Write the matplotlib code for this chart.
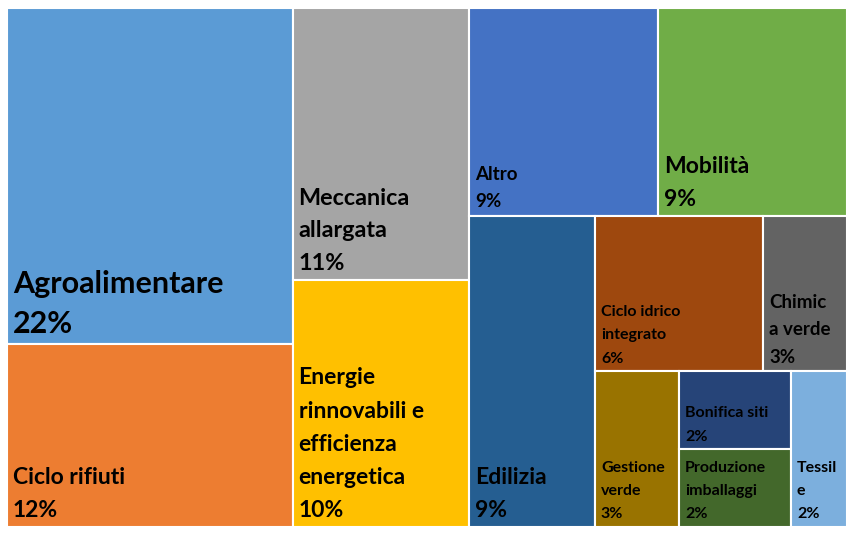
import matplotlib.pyplot as plt
from matplotlib.patches import Rectangle

# sectors, share in percent (largest first, as Excel sorts them)
labels = ["Agroalimentare", "Ciclo rifiuti", "Meccanica\nallargata",
          "Energie\nrinnovabili e\nefficienza\nenergetica", "Altro", "Mobilità",
          "Edilizia", "Ciclo idrico\nintegrato", "Chimic\na verde",
          "Gestione\nverde", "Bonifica siti", "Produzione\nimballaggi", "Tessil\ne"]
values = [22, 12, 11, 10, 9, 9, 9, 6, 3, 3, 2, 2, 2]

# how many items go in each strip of the squarified layout
strips = [2, 2, 2, 1, 2, 1, 2, 1]

colors = ["#5B9BD5", "#ED7D31", "#A5A5A5", "#FFC000", "#4472C4", "#70AD47",
          "#255E91", "#9E480E", "#636363", "#997300", "#264478", "#43682B",
          "#7CAFDD"]
font_sizes = [22, 16.5, 16.8, 16.5, 13.5, 16.5, 16.5, 11.5, 13.5, 11.5, 11.5, 11.5, 11.5]
spacing = {22: 1.52, 16.5: 1.72, 16.8: 1.7, 13.5: 1.75, 11.5: 1.86}

W, H = 840, 519


def layout(vals, strips, x, y, w, h):
    scale = w * h / sum(vals)
    rects = []
    i = 0
    for n in strips:
        group = vals[i:i + n]
        area = sum(group) * scale
        if w >= h:
            cw = area / h
            yy = y
            for v in group:
                ch = v * scale / cw
                rects.append((x, yy, cw, ch))
                yy += ch
            x += cw
            w -= cw
        else:
            rh = area / w
            xx = x
            for v in group:
                rw = v * scale / rh
                rects.append((xx, y, rw, rh))
                xx += rw
            y += rh
            h -= rh
        i += n
    return rects


rects = layout(values, strips, 0, 0, W, H)

fig = plt.figure(figsize=(8.52, 5.33), dpi=100)
ax = fig.add_axes([6 / 852, 5 / 533, (W + 2) / 852, (H + 2) / 533])
ax.set_xlim(-1, W + 1)
ax.set_ylim(H + 1, -1)
ax.axis("off")

for (x, y, w, h), lab, v, c, fs in zip(rects, labels, values, colors, font_sizes):
    ax.add_patch(Rectangle((x, y), w, h, facecolor=c, edgecolor="white", linewidth=1.5))
    ax.annotate(f"{lab}\n{v}%", xy=(x, y + h), xytext=(4.3, 4),
                textcoords="offset points", ha="left", va="bottom",
                fontsize=fs, fontweight="bold", family="Lato",
                linespacing=spacing[fs], color="black")

fig.savefig("out.png", dpi=100)
